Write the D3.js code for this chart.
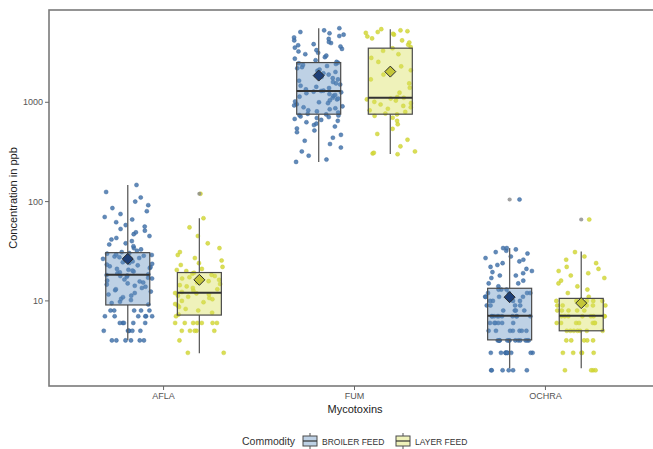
<!DOCTYPE html>
<html><head><meta charset="utf-8">
<script src="https://cdn.jsdelivr.net/npm/d3@7"></script>
<style>body{margin:0;background:#fff;} svg{display:block;}</style>
</head><body><svg id="c" width="653" height="449"></svg>
<script>
const categories = ["AFLA", "FUM", "OCHRA"];
const commodities = ["BROILER FEED", "LAYER FEED"];
const yTicks = [10, 100, 1000];

// observed values per group (ppb)
const aflaBroiler = [4,4,4,4,4,4,5,5,5,5,5,5,6,6,6,6,6,7,7,7,7,7,7,8,8,8,8,8,
 9.2,9.5,9.8,10.2,10.5,10.9,11.3,11.6,12,12.4,12.8,13.1,13.5,13.9,14.2,14.6,15,15.3,15.7,16,16.4,16.8,17.1,17.5,17.8,18,18.2,
 18.5,19,19.4,19.8,20.2,20.6,21,21.4,21.9,22.3,22.8,23.2,23.6,24.1,24.5,25,25.5,26,26.5,27,27.5,28,28.5,29,29.4,29.9,30.3,
 31,32,33,34,35.5,37,38,40,41.5,43,45,47,49,51,53,56,58,62,66,70,75,80,86,92,100,110,125,147];
const aflaLayer = [3,3,4,5,5,5,5,5,6,6,6,6,6,6,6,7,
 7.3,7.6,8,8.3,8.7,9,9.3,9.7,10,10.4,10.7,11,11.3,11.6,11.9,12,
 12.3,12.7,13.1,13.5,14,14.4,14.8,15.3,15.8,16.3,16.8,17.3,17.8,18.3,18.8,19.2,
 20,20.5,21,22,23,24,25.5,27,29,31,34,38,45,55,68,120];
const fumBroiler = [251,265,290,320,350,380,410,440,470,500,520,545,570,590,610,630,650,665,680,695,710,720,735,745,755,
 765,790,810,830,850,870,890,910,930,955,980,1000,1020,1045,1070,1090,1110,1140,1160,1185,1210,1235,1260,1280,1300,
 1310,1350,1390,1430,1470,1510,1550,1600,1650,1700,1750,1800,1850,1900,1960,2020,2080,2140,2200,2260,2320,2380,2430,2470,2500,
 2550,2650,2750,2850,2950,3050,3150,3250,3350,3450,3550,3650,3750,3850,3950,4050,4200,4350,4500,4650,4800,4950,5100,5300,5570];
const fumLayer = [300,305,310,320,360,420,480,540,600,650,700,730,755,
 770,800,830,860,890,920,950,980,1010,1040,1070,1090,1110,
 1130,1250,1400,1550,1700,1900,2100,2300,2550,2800,3050,3300,3500,
 3600,3800,4000,4200,4400,4600,4800,4900,5000,5100,5200,5300,5450];
const ochraBroiler = [2,2,2,2,2,2,3,3,3,3,3,3,3,3,3,3,4,4,4,4,4,4,4,4,4,
 4,4,4,4,5,5,5,5,5,5,5,6,6,6,6,6,6,7,7,7,7,7,7,7,7,
 7,7,8,8,8,8,9,9,9,9,10,10,10,10,11,11,11,11,12,12,12,12,13,13,13,
 14,15,15,16,17,18,18,19,19.5,20,21,22,23,24,25,26,27,28,30,31,32,33,34,34,105];
const ochraLayer = [2,2,2,2,3,3,3,3,3,4,4,4,4,4,5,5,5,
 5,5,5,5,6,6,6,6,6,6,6,7,7,7,7,7,7,
 7,7,8,8,8,8,8,9,9,9,9,9,10,10,10,10,10,
 11,12,13,14,15,16,17,18,19,20,21,22,24,26,28,31,66];

// box summaries: [whiskerLow, q1, median, q3, whiskerHigh]
const aflaBroilerBox  = [4.05, 9.1, 18.3, 30.6, 147];
const aflaLayerBox    = [2.97, 7.2, 12.1, 19.3, 68];
const fumBroilerBox   = [251, 759, 1303, 2512, 5570];
const fumLayerBox     = [302, 759, 1114, 3508, 5450];
const ochraBroilerBox = [2.1, 4.05, 7.1, 13.4, 34];
const ochraLayerBox   = [2.1, 5.0, 7.1, 10.6, 31.4];
const outlierValues   = [[], [120], [], [], [105], [66]];
const meanValues      = [26.5, 16.3, 1857, 2037, 10.9, 9.5];

const groups = [
  {cat:"AFLA", com:"BROILER FEED", pts:aflaBroiler, box:aflaBroilerBox},
  {cat:"AFLA", com:"LAYER FEED", pts:aflaLayer, box:aflaLayerBox},
  {cat:"FUM", com:"BROILER FEED", pts:fumBroiler, box:fumBroilerBox},
  {cat:"FUM", com:"LAYER FEED", pts:fumLayer, box:fumLayerBox},
  {cat:"OCHRA", com:"BROILER FEED", pts:ochraBroiler, box:ochraBroilerBox},
  {cat:"OCHRA", com:"LAYER FEED", pts:ochraLayer, box:ochraLayerBox}
];
groups.forEach((g,i)=>{g.out=outlierValues[i]; g.mean=meanValues[i];});

const pointCol = {"BROILER FEED":"#4575ad", "LAYER FEED":"#d3d838"};
const boxFill  = {"BROILER FEED":"rgba(100,145,192,0.42)", "LAYER FEED":"rgba(216,224,90,0.42)"};
const meanFill = {"BROILER FEED":"#1e3f78", "LAYER FEED":"#c4c638"};

const svg = d3.select("#c");
const L = 49, T = 10, B = 386, R = 660;
const step = (R - L) / 3.2;
const cx = c => L + step * (0.6 + categories.indexOf(c));
const sub = d3.scaleBand().domain(commodities).range([-step*0.375, step*0.375]);
const gx = g => cx(g.cat) + sub(g.com) + sub.bandwidth()/2;
const y = d3.scaleLog().domain([1.39, 8500]).range([B, T]);
const boxW = 44, jitW = 25;

const hash = i => { const s = Math.sin(i*12.9898 + 78.233)*43758.5453; return s - Math.floor(s); };

// panel
svg.append("rect").attr("x",L).attr("y",T).attr("width",R-L).attr("height",B-T)
  .attr("fill","#fff").attr("stroke","#7a7a7a").attr("stroke-width",1.6);

// points
groups.forEach((g,gi)=>{
  svg.append("g").selectAll("circle").data(g.pts).join("circle")
    .attr("cx",(d,i)=>gx(g) + (hash(gi*1000+i)-0.5)*2*jitW)
    .attr("cy",d=>y(d)).attr("r",2.05)
    .attr("fill",pointCol[g.com]).attr("fill-opacity",0.85)
    .attr("stroke",g.com==="BROILER FEED"?"#2f5d94":"#c6ca2a").attr("stroke-width",0.4);
});

// boxes
groups.forEach(g=>{
  const cxg = gx(g), b = g.box;
  const gg = svg.append("g");
  gg.append("line").attr("x1",cxg).attr("x2",cxg).attr("y1",y(b[3])).attr("y2",y(b[4]))
    .attr("stroke","#5e5e5e").attr("stroke-width",1.3);
  gg.append("line").attr("x1",cxg).attr("x2",cxg).attr("y1",y(b[0])).attr("y2",y(b[1]))
    .attr("stroke","#5e5e5e").attr("stroke-width",1.3);
  gg.append("rect").attr("x",cxg-boxW/2).attr("width",boxW)
    .attr("y",y(b[3])).attr("height",y(b[1])-y(b[3]))
    .attr("fill",boxFill[g.com]).attr("stroke","#4a4a4a").attr("stroke-width",1.2);
  gg.append("line").attr("x1",cxg-boxW/2).attr("x2",cxg+boxW/2).attr("y1",y(b[2])).attr("y2",y(b[2]))
    .attr("stroke","#333").attr("stroke-width",2);
  gg.selectAll("circle.o").data(g.out).join("circle").attr("class","o")
    .attr("cx",cxg).attr("cy",d=>y(d)).attr("r",2.1).attr("fill","#8a8a8a").attr("fill-opacity",0.8);
  const d = 5.5, my = y(g.mean);
  gg.append("path").attr("d",`M${cxg},${my-d}L${cxg+d},${my}L${cxg},${my+d}L${cxg-d},${my}Z`)
    .attr("fill",meanFill[g.com]).attr("stroke","#2a2a2a").attr("stroke-width",1);
});

// y axis
const ya = svg.append("g");
yTicks.forEach(t=>{
  ya.append("line").attr("x1",L-4).attr("x2",L).attr("y1",y(t)).attr("y2",y(t)).attr("stroke","#666");
  ya.append("text").attr("x",L-6).attr("y",y(t)).attr("dy","0.35em").attr("text-anchor","end")
    .attr("font-family","Liberation Sans, Arial, sans-serif").attr("font-size",9).attr("fill","#555").text(t);
});
// x axis
categories.forEach(c=>{
  svg.append("line").attr("x1",cx(c)).attr("x2",cx(c)).attr("y1",B).attr("y2",B+4).attr("stroke","#666");
  svg.append("text").attr("x",cx(c)).attr("y",B+13).attr("text-anchor","middle")
    .attr("font-family","Liberation Sans, Arial, sans-serif").attr("font-size",9).attr("fill","#555").text(c);
});
svg.append("text").attr("x",355).attr("y",413).attr("text-anchor","middle")
  .attr("font-family","Liberation Sans, Arial, sans-serif").attr("font-size",11).attr("fill","#222").text("Mycotoxins");
svg.append("text").attr("transform",`translate(17,${(T+B)/2}) rotate(-90)`).attr("text-anchor","middle")
  .attr("font-family","Liberation Sans, Arial, sans-serif").attr("font-size",11).attr("fill","#222").text("Concentration in ppb");

// legend
const lg = svg.append("g").attr("font-family","Liberation Sans, Arial, sans-serif");
lg.append("text").attr("x",242).attr("y",445).attr("font-size",10.5).attr("fill","#333").text("Commodity");
const keyX = [303, 396], labX = [322, 415];
commodities.forEach((c,i)=>{
  lg.append("rect").attr("x",keyX[i]).attr("y",436).attr("width",14).attr("height",10)
    .attr("fill",boxFill[c]).attr("stroke","#4a4a4a").attr("stroke-width",1);
  lg.append("line").attr("x1",keyX[i]).attr("x2",keyX[i]+14).attr("y1",441).attr("y2",441).attr("stroke","#333").attr("stroke-width",1.2);
  lg.append("line").attr("x1",keyX[i]+7).attr("x2",keyX[i]+7).attr("y1",433).attr("y2",436).attr("stroke","#555");
  lg.append("line").attr("x1",keyX[i]+7).attr("x2",keyX[i]+7).attr("y1",446).attr("y2",449).attr("stroke","#555");
  lg.append("text").attr("x",labX[i]).attr("y",444.5).attr("font-size",8.5).attr("fill","#333").text(c);
});
</script></body></html>
